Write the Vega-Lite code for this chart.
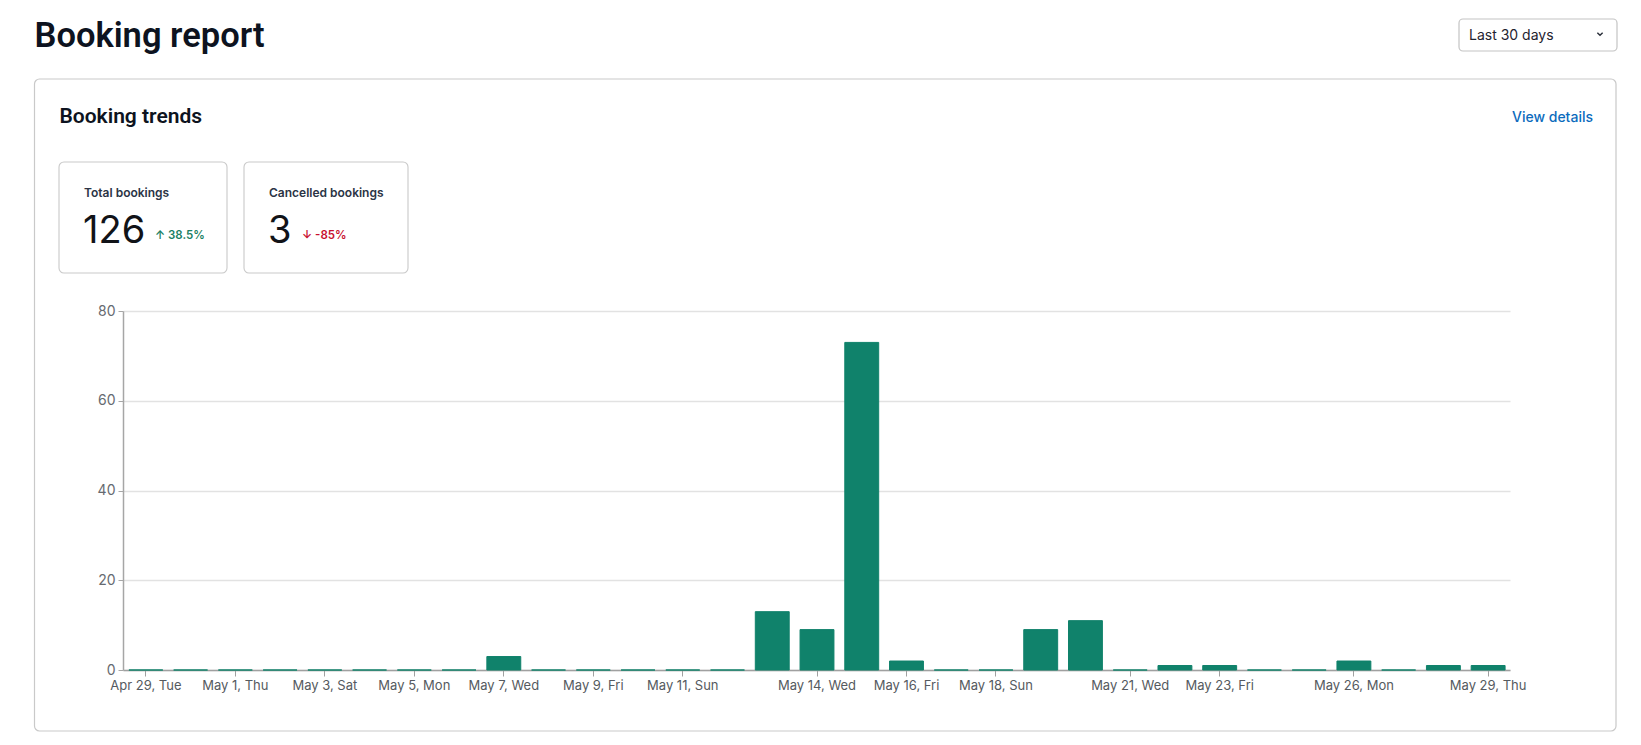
{
  "$schema": "https://vega.github.io/schema/vega-lite/v6.json",
  "autosize": {"type": "none"},
  "padding": {"left": 123, "top": 311, "right": 131, "bottom": 75},
  "width": 1387,
  "height": 359,
  "background": "#ffffff",
  "config": {"view": {"stroke": null}, "font": "Inter"},
  "datasets": {
    "bookings": [
      {"date": "2025-04-29", "bookings": 0},
      {"date": "2025-04-30", "bookings": 0},
      {"date": "2025-05-01", "bookings": 0},
      {"date": "2025-05-02", "bookings": 0},
      {"date": "2025-05-03", "bookings": 0},
      {"date": "2025-05-04", "bookings": 0},
      {"date": "2025-05-05", "bookings": 0},
      {"date": "2025-05-06", "bookings": 0},
      {"date": "2025-05-07", "bookings": 3},
      {"date": "2025-05-08", "bookings": 0},
      {"date": "2025-05-09", "bookings": 0},
      {"date": "2025-05-10", "bookings": 0},
      {"date": "2025-05-11", "bookings": 0},
      {"date": "2025-05-12", "bookings": 0},
      {"date": "2025-05-13", "bookings": 13},
      {"date": "2025-05-14", "bookings": 9},
      {"date": "2025-05-15", "bookings": 73},
      {"date": "2025-05-16", "bookings": 2},
      {"date": "2025-05-17", "bookings": 0},
      {"date": "2025-05-18", "bookings": 0},
      {"date": "2025-05-19", "bookings": 9},
      {"date": "2025-05-20", "bookings": 11},
      {"date": "2025-05-21", "bookings": 0},
      {"date": "2025-05-22", "bookings": 1},
      {"date": "2025-05-23", "bookings": 1},
      {"date": "2025-05-24", "bookings": 0},
      {"date": "2025-05-25", "bookings": 0},
      {"date": "2025-05-26", "bookings": 2},
      {"date": "2025-05-27", "bookings": 0},
      {"date": "2025-05-28", "bookings": 1},
      {"date": "2025-05-29", "bookings": 1}
    ],
    "kpi": [
      {"metric": "Total bookings", "value": "126", "change": "↑ 38.5%"},
      {"metric": "Cancelled bookings", "value": "3", "change": "↓ -85%"}
    ]
  },
  "layer": [
    {
      "data": {"values": [{}]},
      "mark": {"type": "rect", "x": -88.5, "x2": 1493, "y": -232, "y2": 420, "fill": "transparent", "stroke": "#c9c9c9", "strokeWidth": 1.2, "cornerRadius": 5}
    },
    {
      "data": {"values": [{}]},
      "mark": {"type": "rect", "x": 1336, "x2": 1494, "y": -292, "y2": -260, "fill": "transparent", "stroke": "#c4c4c4", "strokeWidth": 1.2, "cornerRadius": 4}
    },
    {
      "data": {"values": [{}]},
      "mark": {"type": "rect", "x": -64, "x2": 104, "y": -149, "y2": -38, "fill": "transparent", "stroke": "#c9c9c9", "strokeWidth": 1.1, "cornerRadius": 5}
    },
    {
      "data": {"values": [{}]},
      "mark": {"type": "rect", "x": 121, "x2": 285, "y": -149, "y2": -38, "fill": "transparent", "stroke": "#c9c9c9", "strokeWidth": 1.1, "cornerRadius": 5}
    },
    {
      "data": {"values": [{}]},
      "mark": {"type": "text", "x": -88.5, "y": -264, "text": "Booking report", "align": "left", "baseline": "alphabetic", "font": "Roboto", "fontSize": 34.5, "fontWeight": 600, "fill": "#0d1320"}
    },
    {
      "data": {"values": [{}]},
      "mark": {"type": "text", "x": 1346, "y": -271, "text": "Last 30 days", "align": "left", "baseline": "alphabetic", "font": "Inter", "fontSize": 14, "fill": "#1f2430"}
    },
    {
      "data": {"values": [{}]},
      "mark": {"type": "point", "x": 1477, "y": -277, "shape": "M -1 -0.5 L 0 0.5 L 1 -0.5", "size": 28, "filled": false, "stroke": "#2a2f3a", "strokeWidth": 1.4, "opacity": 1}
    },
    {
      "data": {"values": [{}]},
      "mark": {"type": "text", "x": -63.5, "y": -188, "text": "Booking trends", "align": "left", "baseline": "alphabetic", "font": "Roboto", "fontSize": 21, "fontWeight": 600, "fill": "#0d1320"}
    },
    {
      "data": {"values": [{}]},
      "mark": {"type": "text", "x": 1470, "y": -189, "text": "View details", "align": "right", "baseline": "alphabetic", "font": "Inter", "fontSize": 14, "fontWeight": 500, "fill": "#0b6bbd"}
    },
    {
      "data": {"name": "kpi"},
      "transform": [{"filter": "datum.metric == 'Total bookings'"}],
      "layer": [
        {"mark": {"type": "text", "x": -39, "y": -114, "align": "left", "baseline": "alphabetic", "font": "Inter", "fontSize": 12, "fontWeight": 600, "fill": "#2b3445"}, "encoding": {"text": {"field": "metric"}}},
        {"mark": {"type": "text", "x": -40, "y": -68, "align": "left", "baseline": "alphabetic", "font": "Inter", "fontSize": 38, "fontWeight": 400, "fill": "#111318"}, "encoding": {"text": {"field": "value"}}},
        {"mark": {"type": "text", "x": 32, "y": -72, "align": "left", "baseline": "alphabetic", "font": "Inter", "fontSize": 11.5, "fontWeight": 600, "fill": "#1a7f64"}, "encoding": {"text": {"field": "change"}}}
      ]
    },
    {
      "data": {"name": "kpi"},
      "transform": [{"filter": "datum.metric == 'Cancelled bookings'"}],
      "layer": [
        {"mark": {"type": "text", "x": 146, "y": -114, "align": "left", "baseline": "alphabetic", "font": "Inter", "fontSize": 12, "fontWeight": 600, "fill": "#2b3445"}, "encoding": {"text": {"field": "metric"}}},
        {"mark": {"type": "text", "x": 145, "y": -68, "align": "left", "baseline": "alphabetic", "font": "Inter", "fontSize": 38, "fontWeight": 400, "fill": "#111318"}, "encoding": {"text": {"field": "value"}}},
        {"mark": {"type": "text", "x": 179, "y": -72, "align": "left", "baseline": "alphabetic", "font": "Inter", "fontSize": 11.5, "fontWeight": 600, "fill": "#c8102e"}, "encoding": {"text": {"field": "change"}}}
      ]
    },
    {
      "data": {"name": "bookings"},
      "mark": {"type": "bar", "width": {"band": 0.78}, "fill": "#10826b", "stroke": "#10826b", "strokeWidth": 1},
      "encoding": {
        "x": {
          "field": "date", "type": "temporal", "timeUnit": "utcyearmonthdate",
          "scale": {
            "domain": [
              {"year": 2025, "month": 4, "date": 29, "utc": true},
              {"year": 2025, "month": 5, "date": 30, "utc": true}
            ],
            "nice": false
          },
          "axis": {
            "title": null,
            "grid": false,
            "values": [
              {"year": 2025, "month": 4, "date": 29, "hours": 12, "utc": true},
              {"year": 2025, "month": 5, "date": 1, "hours": 12, "utc": true},
              {"year": 2025, "month": 5, "date": 3, "hours": 12, "utc": true},
              {"year": 2025, "month": 5, "date": 5, "hours": 12, "utc": true},
              {"year": 2025, "month": 5, "date": 7, "hours": 12, "utc": true},
              {"year": 2025, "month": 5, "date": 9, "hours": 12, "utc": true},
              {"year": 2025, "month": 5, "date": 11, "hours": 12, "utc": true},
              {"year": 2025, "month": 5, "date": 14, "hours": 12, "utc": true},
              {"year": 2025, "month": 5, "date": 16, "hours": 12, "utc": true},
              {"year": 2025, "month": 5, "date": 18, "hours": 12, "utc": true},
              {"year": 2025, "month": 5, "date": 21, "hours": 12, "utc": true},
              {"year": 2025, "month": 5, "date": 23, "hours": 12, "utc": true},
              {"year": 2025, "month": 5, "date": 26, "hours": 12, "utc": true},
              {"year": 2025, "month": 5, "date": 29, "hours": 12, "utc": true}
            ],
            "labelExpr": "utcFormat(datum.value, '%b %-d, %a')",
            "labelOverlap": false,
            "labelFlush": false,
            "labelFont": "Inter",
            "labelFontSize": 13,
            "labelColor": "#555a60",
            "labelPadding": 3,
            "domainColor": "#a0a0a0",
            "domainWidth": 1.5,
            "tickColor": "#a0a0a0",
            "tickSize": 6,
            "tickWidth": 1
          }
        },
        "y": {
          "field": "bookings", "type": "quantitative",
          "scale": {"domain": [0, 80], "nice": false},
          "axis": {
            "title": null,
            "values": [0, 20, 40, 60, 80],
            "grid": true,
            "gridColor": "#e2e2e2",
            "gridWidth": 1.3,
            "domainColor": "#a6a6a6",
            "domainWidth": 1.5,
            "tickColor": "#a6a6a6",
            "tickSize": 5,
            "labelFont": "Inter",
            "labelFontSize": 14,
            "labelColor": "#666a70",
            "labelPadding": 3
          }
        }
      }
    }
  ]
}
